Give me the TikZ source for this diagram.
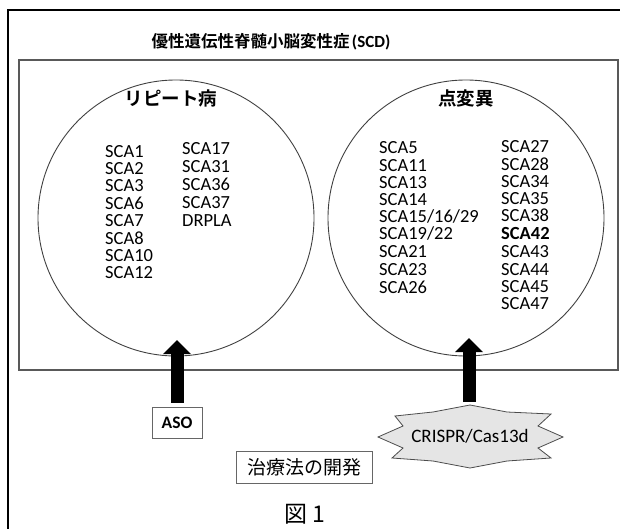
\documentclass[tikz,border=0pt]{standalone}
\usepackage{fontspec}
\setmainfont{Carlito}
\newfontfamily\cjk{Noto Sans CJK JP}[BoldFont={Noto Sans CJK JP Bold}]
\usetikzlibrary{arrows.meta}
\begin{document}
\begin{tikzpicture}[x=1pt,y=-1pt,
  item/.style={anchor=base west, inner sep=0pt, text height=12pt, text depth=0pt, font=\fontsize{18.5}{18.5}\selectfont},
  circ/.style={circle, draw=black!75, line width=0.9pt, minimum size=276pt, inner sep=0pt},
  head/.style={inner sep=0pt, font=\cjk\bfseries\fontsize{18.5}{18.5}\selectfont},
  labbox/.style={draw=black!60, line width=0.9pt, inner sep=0pt, fill=white},
  bigarrow/.style={line width=13pt, -{Triangle[width=27pt,length=14pt]}}
]
\useasboundingbox (0,0) rectangle (620,529);
% outer frame
\draw[line width=2.6pt] (8,529) -- (8,10) -- (620,10);
% inner rectangle
\draw[black!65, line width=1.1pt] (19,60) rectangle (618,370);
% title
\node[inner sep=0pt] (title) at (271,42) {{\cjk\bfseries\fontsize{16.5}{16.5}\selectfont 優性遺伝性脊髄小脳変性症} {\bfseries\fontsize{17}{17}\selectfont (SCD)}};
% circles
\node[circ] (cL) at (176,218) {};
\node[circ] (cR) at (466,218) {};
\node[head] (hL) at (171,98) {リピート病};
\node[head] (hR) at (466,98) {点変異};
% left lists
\foreach \t/\y [count=\i] in {SCA1/152,SCA2/169,SCA3/186,SCA6/203,SCA7/220.5,SCA8/238,SCA10/255,SCA12/272}
  \node[item] (l1-\i) at (105,\y+6) {\t};
\foreach \t/\y [count=\i] in {SCA17/149,SCA31/167,SCA36/185,SCA37/202,DRPLA/220}
  \node[item] (l2-\i) at (182,\y+6) {\t};
% right lists
\foreach \t/\y [count=\i] in {SCA5/148,SCA11/165.5,SCA13/182.5,SCA14/199.5,SCA15\slash 16\slash 29/216.5,SCA19\slash 22/233.5,SCA21/251,SCA23/269,SCA26/287}
  \node[item] (r1-\i) at (379,\y+6) {\t};
\foreach \t/\y [count=\i] in {SCA27/147,SCA28/164.5,SCA34/181.5,SCA35/198.5,SCA38/215.5,\textbf{SCA42}/233,SCA43/251,SCA44/269,SCA45/286,SCA47/303}
  \node[item] (r2-\i) at (501,\y+6) {\t};
% ASO
\node[labbox, minimum width=50pt, minimum height=31pt, font=\bfseries\fontsize{17.5}{17.5}\selectfont] (aso) at (177,422.5) {ASO};
\coordinate (tipL) at (177,340);
\draw[bigarrow, shorten <=4pt] (aso.north) -- (tipL);
% CRISPR star
\coordinate (startop) at (470,405);
\draw[draw=black!70, line width=0.8pt, fill=black!10]
  (startop) -- (507,412) -- (551,414) -- (538,426) -- (563,437) -- (538,448) -- (551,458)
  -- (507,461) -- (470,468) -- (433,461) -- (392,458) -- (403,448) -- (378,437)
  -- (403,426) -- (395,416) -- (433,412) -- cycle;
\node[inner sep=0pt, font=\fontsize{19}{19}\selectfont] (crispr) at (470,436) {CRISPR/Cas13d};
\coordinate (tipR) at (469,338);
\draw[bigarrow, shorten <=3pt] (469,405) -- (tipR);
% development box
\node[labbox, minimum width=136pt, minimum height=32pt, font=\cjk\fontsize{19}{19}\selectfont] (dev) at (304,467) {治療法の開発};
% figure caption
\node[inner sep=0pt, font=\cjk\fontsize{23}{23}\selectfont] (fig) at (305,514) {図 1};
\end{tikzpicture}
\end{document}
